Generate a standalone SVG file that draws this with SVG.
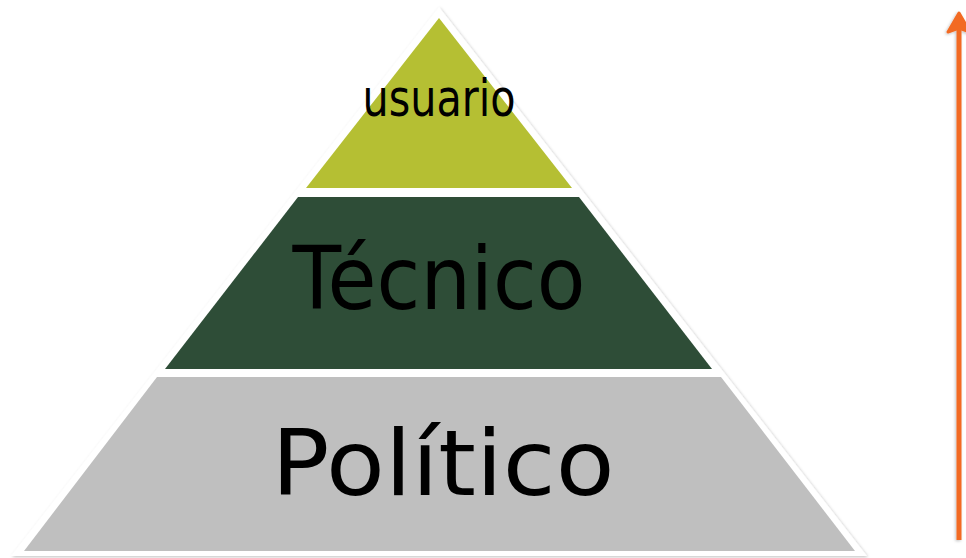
<svg xmlns="http://www.w3.org/2000/svg" width="966" height="558" viewBox="0 0 966 558">
  <defs>
    <filter id="sh" x="-5%" y="-5%" width="110%" height="110%">
      <feDropShadow dx="1" dy="1" stdDeviation="1.5" flood-color="#000" flood-opacity="0.25"/>
    </filter>
    <filter id="sh2" filterUnits="userSpaceOnUse" x="930" y="0" width="36" height="558">
      <feDropShadow dx="-1" dy="1" stdDeviation="1.5" flood-color="#000" flood-opacity="0.25"/>
    </filter>
  </defs>
  <style>
    .lbl { font-family: "DejaVu Sans", "Liberation Sans", sans-serif; fill: #000; text-anchor: middle; }
  </style>
  <rect width="966" height="558" fill="#fff"/>
  <g id="pyramid-base">
    <polygon points="439,7 867,556 11,556" fill="#fff" filter="url(#sh)"/>
  </g>
  <g id="usuario">
    <polygon points="439,18 572,188 306,188" fill="#B5BF33"/>
    <text class="lbl" x="439" y="116" font-size="52" textLength="153" lengthAdjust="spacingAndGlyphs">usuario</text>
  </g>
  <g id="tecnico">
    <polygon points="298,197 579,197 712,369 165,369" fill="#2E4D37"/>
    <text class="lbl" x="439" y="309" font-size="87" textLength="293" lengthAdjust="spacingAndGlyphs">Técnico</text>
  </g>
  <g id="politico">
    <polygon points="157,377 721,377 855,551 24,551" fill="#BFBFBF"/>
    <text class="lbl" x="443" y="495" font-size="91" textLength="343" lengthAdjust="spacingAndGlyphs">Político</text>
  </g>
  <g id="connectors" filter="url(#sh2)">
    <line x1="959" y1="540" x2="959" y2="24" stroke="#F26B24" stroke-width="5"/>
    <path d="M959,13 L970,32 L959,28 L948,32 Z" fill="#F26B24" stroke="#F26B24" stroke-width="3" stroke-linejoin="round"/>
  </g>
</svg>
